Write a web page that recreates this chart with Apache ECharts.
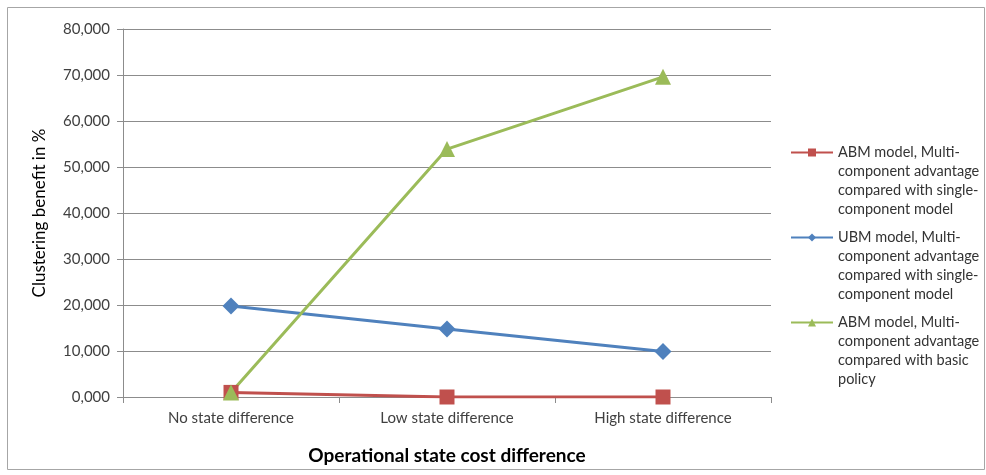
<!DOCTYPE html>
<html>
<head>
<meta charset="utf-8">
<script src="https://cdn.jsdelivr.net/npm/echarts@6/dist/echarts.min.js"></script>
<style>
    html, body { margin: 0; padding: 0; background: #fff; }
    #chart { width: 986px; height: 475px; }
</style>
</head>
<body>
<div id="chart"></div>
<script>
// Chart data
const categories = ['No state difference', 'Low state difference', 'High state difference'];
const abmSingle = [1.0, 0.0, 0.0];
const ubmSingle = [19.8, 14.8, 9.9];
const abmBasic = [1.0, 53.9, 69.6];
const seriesNames = [
    'ABM model, Multi-\ncomponent advantage\ncompared with single-\ncomponent model',
    'UBM model, Multi-\ncomponent advantage\ncompared with single-\ncomponent model',
    'ABM model, Multi-\ncomponent advantage\ncompared with basic\npolicy'
];

const font = 'Lato, "Open Sans", sans-serif';
const gridColor = '#8c8c8c';

const chart = echarts.init(document.getElementById('chart'));

function makeSeries(name, data, color, symbol, size) {
    return {
        name: name,
        type: 'line',
        data: data,
        symbol: symbol,
        symbolSize: size,
        lineStyle: { color: color, width: 3 },
        itemStyle: { color: color },
        animation: false
    };
}

chart.setOption({
    backgroundColor: '#fff',
    textStyle: { fontFamily: font },
    graphic: [{
        type: 'rect',
        shape: { x: 7.5, y: 7.5, width: 977, height: 462 },
        style: { fill: 'none', stroke: '#a6a6a6', lineWidth: 1 },
        silent: true
    }],
    grid: { left: 123, right: 215, top: 29, bottom: 78 },
    legend: {
        orient: 'vertical',
        left: 785,
        top: 81,
        itemWidth: 42,
        itemHeight: 10,
        itemGap: -48,
        // blank lines push the first text line level with the icon
        formatter: function (name) { return '\n\n\n' + name; },
        textStyle: {
            fontFamily: font,
            fontSize: 14.5,
            color: '#333',
            lineHeight: 19,
            align: 'left'
        }
    },
    xAxis: {
        type: 'category',
        data: categories,
        boundaryGap: true,
        name: 'Operational state cost difference',
        nameLocation: 'middle',
        nameGap: 49,
        nameTextStyle: { fontFamily: font, fontSize: 19, fontWeight: 'bold', color: '#000' },
        axisLine: { lineStyle: { color: gridColor } },
        axisTick: { show: true, length: 6, lineStyle: { color: gridColor } },
        axisLabel: { fontFamily: font, fontSize: 15, color: '#404040', margin: 14 }
    },
    yAxis: {
        type: 'value',
        min: 0,
        max: 80,
        interval: 10,
        name: 'Clustering benefit in %',
        nameLocation: 'middle',
        nameGap: 75,
        nameTextStyle: { fontFamily: font, fontSize: 17, color: '#000' },
        axisLine: { show: true, lineStyle: { color: gridColor } },
        axisTick: { show: true, length: 6, lineStyle: { color: gridColor } },
        splitLine: { lineStyle: { color: gridColor, width: 1 } },
        axisLabel: {
            fontFamily: font,
            fontSize: 15,
            color: '#404040',
            margin: 13,
            formatter: function (v) { return v.toFixed(3).replace('.', ','); }
        }
    },
    series: [
        makeSeries(seriesNames[0], abmSingle, '#C0504D', 'rect', 15),
        makeSeries(seriesNames[1], ubmSingle, '#4F81BD', 'diamond', 17),
        makeSeries(seriesNames[2], abmBasic, '#9BBB59', 'triangle', 16)
    ]
});
</script>
</body>
</html>
